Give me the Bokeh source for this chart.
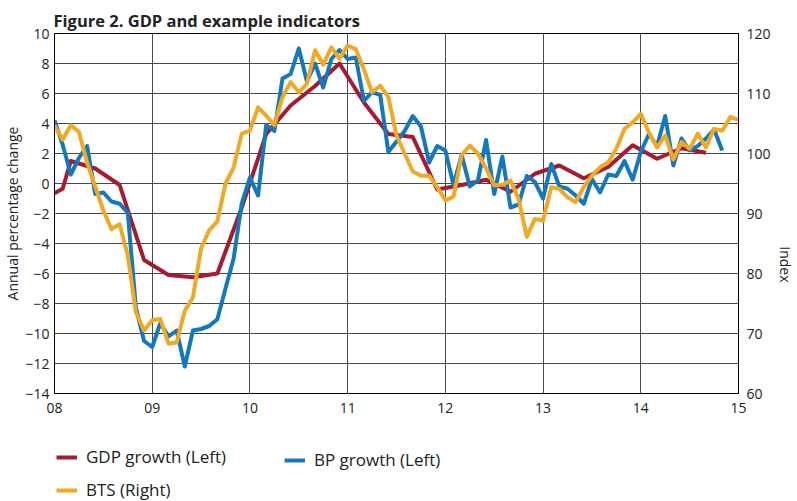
from bokeh.plotting import figure
from bokeh.layouts import column
from bokeh.models import Range1d, LinearAxis, FixedTicker, Legend, LegendItem
from bokeh.embed import file_html
from bokeh.resources import INLINE

# ---- data (months counted from Jan 2008) ----
gdp_months = [0, 1, 2, 5, 8, 11, 14, 17, 20, 23, 26, 29, 32, 35, 38, 41, 44, 47,
              50, 53, 56, 59, 62, 65, 68, 71, 74, 77, 80]
gdp_growth = [-0.65, -0.35, 1.5, 1.0, -0.1, -5.1, -6.1, -6.25, -6.0, -1.6, 3.3, 5.2,
              6.5, 8.0, 5.4, 3.3, 3.1, -0.4, -0.1, 0.25, -0.55, 0.65, 1.2, 0.35, 1.1,
              2.55, 1.65, 2.35, 2.05]

bp_growth = [4.2, 2.6, 0.6, 1.7, 2.5, -0.7, -0.6, -1.2, -1.35, -1.95,
             -8.3, -10.5, -10.9, -9.3, -10.2, -9.8, -12.2, -9.8, -9.7, -9.5,
             -9.05, -7.0, -5.0, -1.3, 0.4, -0.8, 3.9, 3.5, 7.0, 7.3,
             9.0, 6.8, 8.0, 6.4, 8.3, 8.9, 8.3, 8.4, 5.5, 6.1,
             5.9, 2.1, 2.8, 3.5, 4.5, 3.8, 1.4, 2.5, 2.2, -0.1,
             1.9, -0.2, 0.2, 2.9, -0.7, 1.8, -1.6, -1.4, 0.5, 0.1,
             -1.0, 1.3, -0.2, -0.35, -0.8, -1.35, 0.3, -0.6, 0.6, 0.5,
             1.5, 0.25, 2.1, 3.3, 2.5, 4.5, 1.2, 3.0, 2.2, 2.5,
             3.0, 3.6, 2.2]

bts_index = [104.7, 102.3, 104.7, 103.6, 98.5, 94.5, 90.5, 87.4, 88.2, 83.0,
             73.5, 70.5, 72.2, 72.4, 68.3, 68.5, 73.8, 76.0, 84.2, 87.2,
             88.7, 95.0, 97.7, 103.3, 103.8, 107.7, 106.3, 104.7, 109.4, 111.9,
             110.2, 111.6, 117.2, 114.8, 117.7, 115.8, 118.0, 117.4, 114.0, 110.2,
             111.3, 109.4, 103.0, 100.0, 97.0, 96.3, 96.3, 94.4, 92.2, 92.8,
             99.7, 101.3, 100.0, 97.5, 94.7, 94.8, 95.5, 92.4, 86.1, 89.1,
             88.8, 94.4, 94.1, 92.7, 91.9, 94.4, 96.3, 97.7, 98.5, 100.8,
             104.1, 105.2, 106.6, 103.5, 101.0, 103.0, 99.0, 101.9, 100.8, 103.3,
             101.0, 104.1, 103.8, 106.1, 105.6]

year_ticks = [2008, 2009, 2010, 2011, 2012, 2013, 2014, 2015]
year_labels = ["08", "09", "10", "11", "12", "13", "14", "15"]
left_ticks = list(range(-14, 11, 2))
right_ticks = [60, 70, 80, 90, 100, 110, 120]

title_text = "Figure 2. GDP and example indicators"
left_label = "Annual percentage change"
right_label = "Index"
names = ["GDP growth (Left)", "BP growth (Left)", "BTS (Right)"]

# ---- derived x positions ----
x_gdp = [2008 + m / 12 for m in gdp_months]
x_bp = [2008 + m / 12 for m in range(len(bp_growth))]
x_bts = [2008 + m / 12 for m in range(len(bts_index))]

RED = "#A51C30"
BLUE = "#1279BF"
ORANGE = "#EFA925"
FONT = "Open Sans"
TXT = "#222222"
NB = "\u00a0"

p = figure(width=797, height=431, output_backend="svg", toolbar_location=None,
           x_range=Range1d(2008, 2015), y_range=Range1d(-14, 10),
           min_border_left=53, min_border_right=56, min_border_top=33,
           min_border_bottom=38, title=title_text)
p.extra_y_ranges = {"right": Range1d(60, 120)}
p.outline_line_color = "black"
p.outline_line_width = 1
p.background_fill_color = "white"
p.border_fill_color = "white"

p.title.align = "left"
p.title.text_font = FONT
p.title.text_font_style = "bold"
p.title.text_font_size = "16.5px"
p.title.text_color = TXT
p.title.standoff = 4
p.title.offset = -1

# axes
p.xaxis.ticker = FixedTicker(ticks=year_ticks)
p.xaxis.major_label_overrides = {t: l for t, l in zip(year_ticks, year_labels)}
p.yaxis.ticker = FixedTicker(ticks=left_ticks)
p.yaxis.axis_label = left_label

# label nudged down along the axis, as in the original
rax = LinearAxis(y_range_name="right", ticker=FixedTicker(ticks=right_ticks),
                 axis_label=NB * 28 + right_label)
p.add_layout(rax, "right")

for ax in [p.xaxis[0], p.yaxis[0], rax]:
    ax.axis_line_color = "black"
    ax.major_tick_out = 0
    ax.major_tick_in = 0
    ax.minor_tick_out = 0
    ax.minor_tick_in = 0
    ax.major_label_text_font = FONT
    ax.major_label_text_font_size = "14px"
    ax.major_label_text_color = TXT
    ax.axis_label_text_font = FONT
    ax.axis_label_text_font_size = "14px"
    ax.axis_label_text_font_style = "normal"
    ax.axis_label_text_color = TXT
p.xaxis.major_label_standoff = 9
p.yaxis.major_label_standoff = 5
p.yaxis.axis_label_standoff = 0
rax.major_label_standoff = 8
rax.axis_label_standoff = 2

# grid
p.xgrid.ticker = FixedTicker(ticks=year_ticks)
p.ygrid.ticker = FixedTicker(ticks=left_ticks)
for g in [p.xgrid[0], p.ygrid[0]]:
    g.grid_line_color = "#4a4a4a"
    g.grid_line_width = 1
    g.grid_line_alpha = 1.0

# lines
p.line(x_gdp, gdp_growth, line_width=4, color=RED, line_join="round")
p.line(x_bp, bp_growth, line_width=4, color=BLUE, line_join="round")
p.line(x_bts, bts_index, line_width=4, color=ORANGE, line_join="round",
       y_range_name="right")

# ---- legend strip below the chart (series drawn out of view, only the keys show) ----
pl = figure(width=797, height=70, output_backend="svg", toolbar_location=None,
            x_range=Range1d(0, 1), y_range=Range1d(1000, 1001),
            x_axis_location=None, y_axis_location=None,
            min_border_left=0, min_border_right=0, min_border_top=0,
            min_border_bottom=0, title=None)
pl.grid.visible = False
pl.outline_line_color = None
pl.background_fill_color = "white"
pl.border_fill_color = "white"
k_gdp = pl.line(x_gdp, gdp_growth, line_width=4, color=RED)
k_bp = pl.line(x_bp, bp_growth, line_width=4, color=BLUE)
k_bts = pl.line(x_bts, bts_index, line_width=4, color=ORANGE)


def make_legend(items, loc):
    lg = Legend(items=items, location=loc, orientation="vertical")
    lg.label_text_font = FONT
    lg.label_text_font_size = "17px"
    lg.label_text_color = TXT
    lg.glyph_width = 21
    lg.glyph_height = 20
    lg.label_height = 20
    lg.label_standoff = 9
    lg.spacing = 10
    lg.padding = 0
    lg.margin = 0
    lg.border_line_color = None
    lg.background_fill_alpha = 0
    return lg


pl.add_layout(make_legend([LegendItem(label=names[0], renderers=[k_gdp]),
                           LegendItem(label=names[2], renderers=[k_bts])], (2, 0)))
pl.add_layout(make_legend([LegendItem(label=names[1], renderers=[k_bp])], (230, 30)))

layout = column(p, pl, spacing=0)
open("out.html", "w").write(file_html(layout, INLINE))
